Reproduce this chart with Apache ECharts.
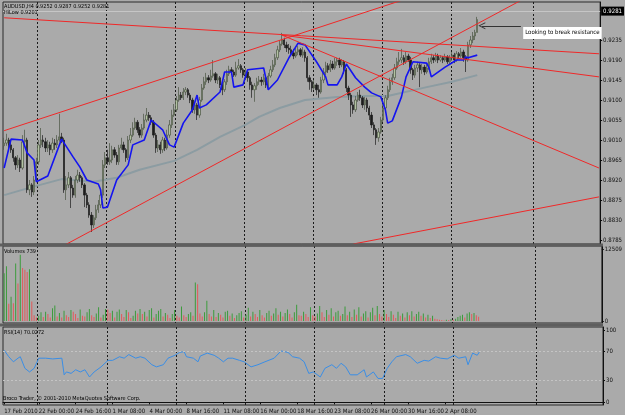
<!DOCTYPE html>
<html>
<head>
<meta charset="utf-8">
<script src="https://cdn.jsdelivr.net/npm/echarts@6/dist/echarts.min.js"></script>
<style>
html, body { margin: 0; padding: 0; background: #aaaaaa; }
#chart { width: 625px; height: 415px; }
</style>
</head>
<body>
<div id="chart"></div>
<script>
// AUDUSD H4, bars from 17 Feb 2010 12:00 to 6 Apr 2010
var symbolName = 'AUDUSD,H4';
var firstOpen = 0.8997;
var closes = [
  0.9003, 0.9010, 0.8999, 0.8988, 0.8970, 0.8954, 0.8965, 0.8947, 0.9006, 0.9010, 0.8898, 0.8909, 0.8893, 0.8920, 0.8961,
  0.8999, 0.9010, 0.9006, 0.8992, 0.8999, 0.8988, 0.9003, 0.8999, 0.9010, 0.9017, 0.9010, 0.8898, 0.8909, 0.8925, 0.8902,
  0.8886, 0.8920, 0.8931, 0.8925, 0.8909, 0.8886, 0.8864, 0.8841, 0.8819, 0.8835, 0.8853, 0.8864, 0.8886, 0.8954, 0.8970,
  0.8961, 0.8965, 0.8988, 0.8976, 0.8961, 0.8992, 0.8999, 0.8988, 0.8970, 0.9010, 0.9021, 0.9037, 0.9050, 0.9033, 0.9021,
  0.9037, 0.9055, 0.9066, 0.9060, 0.9050, 0.9021, 0.8992, 0.8999, 0.8988, 0.9010, 0.8992, 0.9021, 0.9044, 0.9066, 0.9078,
  0.9100, 0.9111, 0.9105, 0.9118, 0.9123, 0.9111, 0.9100, 0.9078, 0.9089, 0.9066, 0.9100, 0.9127, 0.9141, 0.9150, 0.9145,
  0.9154, 0.9159, 0.9145, 0.9150, 0.9134, 0.9123, 0.9141, 0.9159, 0.9168, 0.9163, 0.9156, 0.9172, 0.9177, 0.9168, 0.9156,
  0.9163, 0.9150, 0.9134, 0.9123, 0.9132, 0.9141, 0.9145, 0.9141, 0.9150, 0.9134, 0.9154, 0.9168, 0.9179, 0.9195, 0.9213,
  0.9226, 0.9235, 0.9224, 0.9217, 0.9213, 0.9206, 0.9199, 0.9208, 0.9213, 0.9201, 0.9208, 0.9195, 0.9150, 0.9141, 0.9127,
  0.9134, 0.9123, 0.9118, 0.9145, 0.9163, 0.9177, 0.9168, 0.9181, 0.9172, 0.9186, 0.9190, 0.9179, 0.9186, 0.9168, 0.9127,
  0.9111, 0.9089, 0.9078, 0.9100, 0.9111, 0.9105, 0.9089, 0.9100, 0.9082, 0.9066, 0.9044, 0.9033, 0.9015, 0.9028, 0.9055,
  0.9082, 0.9105, 0.9123, 0.9141, 0.9150, 0.9172, 0.9186, 0.9190, 0.9195, 0.9186, 0.9199, 0.9190, 0.9168, 0.9156, 0.9172,
  0.9179, 0.9168, 0.9174, 0.9163, 0.9172, 0.9186, 0.9195, 0.9190, 0.9199, 0.9190, 0.9195, 0.9190, 0.9197, 0.9186, 0.9195,
  0.9201, 0.9190, 0.9204, 0.9199, 0.9208, 0.9195, 0.9190, 0.9224, 0.9235, 0.9244, 0.9252, 0.9281
];
var highs = [
  0.9015, 0.9024, 0.9015, 0.9006, 0.8992, 0.8974, 0.8976, 0.8970, 0.9021, 0.9033, 0.9015, 0.8920, 0.8913, 0.8929, 0.8970,
  0.9010, 0.9037, 0.9021, 0.9015, 0.9010, 0.9006, 0.9015, 0.9012, 0.9021, 0.9069, 0.9026, 0.9015, 0.8929, 0.8938, 0.8929,
  0.8909, 0.8929, 0.8943, 0.8938, 0.8929, 0.8913, 0.8891, 0.8870, 0.8848, 0.8841, 0.8864, 0.8875, 0.8898, 0.8965, 0.8983,
  0.8988, 0.9003, 0.8997, 0.8994, 0.8983, 0.8999, 0.9015, 0.9006, 0.8992, 0.9019, 0.9037, 0.9050, 0.9060, 0.9055, 0.9039,
  0.9046, 0.9069, 0.9082, 0.9073, 0.9066, 0.9055, 0.9026, 0.9010, 0.9006, 0.9017, 0.9015, 0.9033, 0.9055, 0.9078, 0.9091,
  0.9109, 0.9129, 0.9118, 0.9127, 0.9129, 0.9127, 0.9116, 0.9105, 0.9096, 0.9093, 0.9107, 0.9136, 0.9152, 0.9161, 0.9156,
  0.9168, 0.9190, 0.9163, 0.9159, 0.9154, 0.9141, 0.9147, 0.9168, 0.9177, 0.9174, 0.9168, 0.9186, 0.9192, 0.9181, 0.9172,
  0.9172, 0.9168, 0.9154, 0.9141, 0.9138, 0.9150, 0.9154, 0.9152, 0.9159, 0.9154, 0.9161, 0.9177, 0.9190, 0.9204, 0.9222,
  0.9235, 0.9251, 0.9240, 0.9231, 0.9226, 0.9222, 0.9215, 0.9217, 0.9222, 0.9217, 0.9219, 0.9213, 0.9199, 0.9156, 0.9145,
  0.9145, 0.9138, 0.9134, 0.9152, 0.9172, 0.9186, 0.9183, 0.9190, 0.9188, 0.9195, 0.9195, 0.9195, 0.9192, 0.9190, 0.9172,
  0.9132, 0.9116, 0.9096, 0.9109, 0.9118, 0.9123, 0.9109, 0.9107, 0.9105, 0.9087, 0.9073, 0.9050, 0.9037, 0.9037, 0.9062,
  0.9091, 0.9111, 0.9132, 0.9150, 0.9159, 0.9181, 0.9195, 0.9208, 0.9215, 0.9201, 0.9208, 0.9204, 0.9197, 0.9172, 0.9179,
  0.9186, 0.9183, 0.9181, 0.9179, 0.9181, 0.9195, 0.9204, 0.9201, 0.9206, 0.9204, 0.9201, 0.9199, 0.9204, 0.9201, 0.9201,
  0.9208, 0.9206, 0.9210, 0.9208, 0.9217, 0.9213, 0.9201, 0.9231, 0.9244, 0.9253, 0.9258, 0.9287
];
var lows = [
  0.8988, 0.8997, 0.8992, 0.8981, 0.8961, 0.8943, 0.8947, 0.8938, 0.8943, 0.8997, 0.8891, 0.8886, 0.8882, 0.8886, 0.8916,
  0.8954, 0.8992, 0.8994, 0.8983, 0.8983, 0.8976, 0.8981, 0.8988, 0.8992, 0.9006, 0.9003, 0.8891, 0.8875, 0.8902, 0.8857,
  0.8880, 0.8880, 0.8913, 0.8916, 0.8902, 0.8859, 0.8857, 0.8835, 0.8803, 0.8812, 0.8830, 0.8846, 0.8857, 0.8880, 0.8947,
  0.8954, 0.8954, 0.8958, 0.8970, 0.8954, 0.8954, 0.8988, 0.8981, 0.8961, 0.8965, 0.9003, 0.9017, 0.9033, 0.9026, 0.9015,
  0.9015, 0.9033, 0.9050, 0.9053, 0.9044, 0.9015, 0.8981, 0.8983, 0.8979, 0.8981, 0.8985, 0.8988, 0.9015, 0.9037, 0.9062,
  0.9073, 0.9096, 0.9100, 0.9100, 0.9111, 0.9105, 0.9093, 0.9071, 0.9069, 0.9055, 0.9060, 0.9096, 0.9123, 0.9134, 0.9138,
  0.9141, 0.9150, 0.9138, 0.9136, 0.9127, 0.9111, 0.9118, 0.9134, 0.9154, 0.9156, 0.9152, 0.9152, 0.9168, 0.9161, 0.9150,
  0.9145, 0.9141, 0.9123, 0.9105, 0.9096, 0.9123, 0.9134, 0.9132, 0.9134, 0.9127, 0.9127, 0.9150, 0.9163, 0.9174, 0.9190,
  0.9208, 0.9222, 0.9217, 0.9208, 0.9204, 0.9199, 0.9192, 0.9195, 0.9201, 0.9197, 0.9195, 0.9186, 0.9141, 0.9123, 0.9118,
  0.9123, 0.9111, 0.9105, 0.9114, 0.9138, 0.9156, 0.9161, 0.9163, 0.9168, 0.9168, 0.9177, 0.9172, 0.9174, 0.9159, 0.9118,
  0.9100, 0.9062, 0.9069, 0.9073, 0.9096, 0.9098, 0.9082, 0.9078, 0.9073, 0.9055, 0.9037, 0.9021, 0.8999, 0.9006, 0.9024,
  0.9050, 0.9078, 0.9100, 0.9118, 0.9134, 0.9145, 0.9168, 0.9179, 0.9183, 0.9179, 0.9181, 0.9186, 0.9159, 0.9145, 0.9150,
  0.9163, 0.9129, 0.9159, 0.9156, 0.9159, 0.9168, 0.9181, 0.9183, 0.9186, 0.9183, 0.9186, 0.9183, 0.9186, 0.9181, 0.9179,
  0.9188, 0.9183, 0.9186, 0.9192, 0.9195, 0.9186, 0.9163, 0.9186, 0.9217, 0.9228, 0.9235, 0.9252
];
var volumes = [
  8300, 9500, 3000, 4200, 3100, 10000, 6500, 11500, 9200, 8900, 8500, 9000, 3400, 1000, 600,
  900, 1500, 700, 1600, 1200, 600, 2200, 2700, 800, 1400, 600, 1800, 1000, 700, 1900,
  1600, 1200, 500, 2000, 900, 800, 1500, 2100, 1000, 700, 1300, 2400, 600, 1100, 2100,
  2000, 1400, 1800, 600, 1600, 2000, 1200, 700, 1900, 1500, 500, 900, 1800, 1300, 2100,
  1200, 1600, 800, 1900, 2200, 600, 1200, 1800, 2100, 800, 1400, 1100, 500, 1200, 1900,
  900, 600, 2500, 1000, 700, 1200, 1500, 900, 6700, 6400, 1300, 800, 1500, 3500, 1200,
  800, 1900, 700, 1400, 1100, 600, 1600, 1800, 900, 1300, 500, 1000, 1400, 1700, 600,
  1100, 2300, 800, 1600, 1200, 700, 1900, 1000, 600, 1400, 1800, 900, 1300, 2200, 1100,
  1600, 800, 1400, 2000, 1200, 600, 1500, 2800, 1000, 900, 1600, 1200, 700, 2400, 1000,
  800, 1300, 2600, 1500, 700, 1900, 1100, 2200, 800, 1500, 1800, 900, 1200, 2500, 1000,
  1600, 700, 2000, 1100, 2400, 800, 1300, 1700, 600, 1500, 2300, 1000, 2600, 1200, 800,
  1900, 1200, 700, 1700, 1100, 500, 1600, 900, 1300, 600, 1500, 1000, 1700, 800, 1200,
  1600, 900, 1300, 600, 1100, 500, 900, 400, 300, 200, 150, 100, 200, 150, 300,
  200, 400, 700, 900, 1100, 600, 1300, 1500, 1200, 1400, 1000, 739
];
// [bar index, value]
var hiLow = [
  [0, 0.8947], [3, 0.9012], [8, 0.9010], [10, 0.8981], [13, 0.8965], [14, 0.8916], [19, 0.8929], [25, 0.9012],
  [30, 0.8972], [33, 0.8949], [36, 0.8920], [41, 0.8911], [42, 0.8898], [43, 0.8857], [45, 0.8859], [49, 0.8920],
  [54, 0.8954], [56, 0.8999], [61, 0.9010], [64, 0.9055], [69, 0.9033], [72, 0.8999], [74, 0.8994], [78, 0.9048],
  [82, 0.9078], [84, 0.9111], [85, 0.9082], [88, 0.9089], [94, 0.9118], [96, 0.9163], [99, 0.9163], [100, 0.9129],
  [104, 0.9134], [106, 0.9168], [113, 0.9172], [115, 0.9123], [119, 0.9145], [124, 0.9195], [128, 0.9228], [131, 0.9224],
  [136, 0.9186], [140, 0.9152], [141, 0.9134], [145, 0.9134], [147, 0.9152], [149, 0.9181], [153, 0.9150], [157, 0.9129],
  [160, 0.9116], [164, 0.9107], [166, 0.9078], [167, 0.9048], [169, 0.9053], [173, 0.9107], [175, 0.9152], [178, 0.9186],
  [184, 0.9183], [185, 0.9172], [186, 0.9152], [192, 0.9174], [197, 0.9190], [200, 0.9190], [201, 0.9197], [202, 0.9195],
  [206, 0.9201]
];
var slowMa = [
  [0, 0.8886], [12, 0.8904], [25, 0.8922], [39, 0.8916], [49, 0.8925], [59, 0.8943], [74, 0.8963], [84, 0.8988],
  [94, 0.9017], [105, 0.9044], [111, 0.9062], [120, 0.9082], [131, 0.9100], [145, 0.9107], [156, 0.9109], [167, 0.9109],
  [184, 0.9129], [195, 0.9141], [206, 0.9156]
];
var rsi = [
  [0, 72], [2, 63], [4, 56], [6, 61], [7, 63], [9, 47], [11, 42], [13, 47], [15, 61], [18, 61], [21, 60], [25, 61],
  [26, 38], [27, 42], [29, 40], [31, 45], [33, 42], [35, 45], [37, 35], [39, 42], [42, 49], [45, 58], [47, 58], [50, 63],
  [52, 61], [54, 66], [57, 61], [59, 63], [61, 61], [64, 52], [66, 49], [69, 52], [71, 61], [74, 65], [76, 69], [78, 70],
  [79, 63], [82, 61], [84, 56], [85, 64], [88, 68], [91, 65], [93, 61], [95, 56], [97, 61], [99, 61], [102, 58], [104, 56],
  [107, 49], [110, 52], [113, 56], [117, 61], [120, 71], [123, 69], [125, 63], [128, 61], [130, 56], [132, 40], [134, 42],
  [137, 35], [139, 47], [142, 52], [144, 47], [146, 54], [148, 49], [150, 38], [153, 38], [156, 45], [157, 35], [160, 42],
  [162, 33], [164, 33], [166, 47], [168, 56], [170, 63], [174, 66], [176, 63], [179, 54], [182, 58], [184, 57], [187, 63],
  [189, 61], [192, 60], [195, 65], [197, 61], [200, 63], [201, 52], [203, 68], [205, 65], [206, 70.0272]
];
var trendLines = [
  [[0, 0.9031], [180, 0.9336]],
  [[24, 0.8767], [230, 0.9338]],
  [[0, 0.9285], [259, 0.9204]],
  [[121, 0.9246], [259, 0.8947]],
  [[121, 0.9246], [259, 0.9152]],
  [[152, 0.8776], [259, 0.8882]]
];
var noteText = 'Looking to break resistance';
var noteArrow = [[225, 0.9267], [208, 0.9267]];
var noteAt = [226, 0.9251];

var dateLabels = ['17 Feb 2010', '22 Feb 00:00', '24 Feb 16:00', '1 Mar 08:00', '4 Mar 00:00', '8 Mar 16:00',
  '11 Mar 08:00', '16 Mar 00:00', '18 Mar 16:00', '23 Mar 08:00', '26 Mar 00:00', '30 Mar 16:00', '2 Apr 08:00'];
var dateLabelIdx = [0, 15, 31, 47, 63, 79, 95, 111, 127, 143, 159, 175, 191];
var weekLines = [15, 45, 75, 105, 135, 165, 195, 231];
var priceTicks = [0.9235, 0.9190, 0.9145, 0.9100, 0.9055, 0.9010, 0.8965, 0.8920, 0.8875, 0.8830, 0.8785];
var volumeTicks = [0, 12509];
var rsiTicks = [0, 30, 70, 100];
var rsiLevels = [30, 70];
var totalSlots = 260;

var font = 'DejaVu Sans Condensed';
var ink = '#101010';

var slots = [];
for (var s = 0; s < totalSlots; s++) slots.push(String(s));

var candles = closes.map(function (c, i) {
  var o = i === 0 ? firstOpen : closes[i - 1];
  return [o, c, lows[i], highs[i]];
});
var volData = volumes.map(function (v, i) {
  var up = i === 0 || v > volumes[i - 1];
  return { value: v, itemStyle: { color: up ? '#3c9c3c' : '#e25a5a' } };
});

var last = candles[candles.length - 1];
var headText = symbolName + ' ' + [last[0], last[3], last[2], last[1]].map(function (v) { return v.toFixed(4); }).join(' ');
var hiLowText = 'HiLow ' + hiLow[hiLow.length - 1][1].toFixed(4);
var volText = 'Volumes ' + volumes[volumes.length - 1];
var rsiText = 'RSI(14) ' + rsi[rsi.length - 1][1].toFixed(4);
var bid = closes[closes.length - 1];

function isWeek(idx) { return weekLines.indexOf(idx) >= 0; }
function isLabel(idx) { return dateLabelIdx.indexOf(idx) >= 0; }

function makeX(gi, bottom) {
  return {
    type: 'category', gridIndex: gi, data: slots, boundaryGap: true,
    axisLine: { show: bottom, lineStyle: { color: ink } },
    axisTick: { show: bottom, interval: function (i) { return isLabel(i); }, alignWithLabel: true, length: 2, lineStyle: { color: ink } },
    axisLabel: {
      show: bottom, interval: function (i) { return isLabel(i); },
      showMinLabel: true, showMaxLabel: true, hideOverlap: false,
      formatter: function (v, i) { var k = dateLabelIdx.indexOf(i); return k >= 0 ? dateLabels[k] : ''; },
      fontSize: 6, fontFamily: font, color: ink, align: 'left', margin: 3
    },
    splitLine: { show: true, interval: function (i) { return isWeek(i); }, lineStyle: { color: '#1a1a1a', width: 1, type: [2, 2] } }
  };
}
function makeY(gi, min, max, ticks, fmt) {
  return {
    type: 'value', gridIndex: gi, position: 'right', min: min, max: max,
    axisLine: { show: true, lineStyle: { color: ink } },
    axisTick: { show: true, length: 2, customValues: ticks, lineStyle: { color: ink } },
    axisLabel: { customValues: ticks, formatter: fmt, fontSize: 6, fontFamily: font, color: ink, margin: 3, showMinLabel: true, showMaxLabel: true },
    splitLine: { show: false }
  };
}

var series = [
  {
    type: 'line', xAxisIndex: 0, yAxisIndex: 0, data: slowMa, symbol: 'none', z: 3,
    lineStyle: { color: '#8c9ca2', width: 2 }
  },
  {
    type: 'candlestick', xAxisIndex: 0, yAxisIndex: 0, data: candles, barWidth: 1.8, z: 4,
    itemStyle: { color: '#b2c2a2', color0: '#1c1c1c', borderColor: '#4a5444', borderColor0: '#1c1c1c', borderWidth: 0.7 },
    markLine: {
      silent: true, symbol: ['none', 'none'], animation: false,
      data: [
        {
          yAxis: bid, lineStyle: { color: '#c6c6c6', type: 'solid', width: 1 },
          label: { show: true, position: 'end', distance: 1, formatter: bid.toFixed(4), backgroundColor: '#000', color: '#fff', fontSize: 6, fontFamily: font, padding: [2, 2, 1, 2] }
        },
        [
          { coord: noteArrow[0], symbol: 'none', lineStyle: { color: '#333', width: 1, type: 'solid' }, label: { show: false } },
          { coord: noteArrow[1], symbol: 'path://M0,10 L5,0 L10,10 L8.6,10 L5,2.6 L1.4,10 Z', symbolSize: [7, 7] }
        ]
      ]
    },
    markPoint: {
      silent: true, animation: false,
      data: [{
        coord: noteAt, symbol: 'rect', symbolSize: 0,
        label: { show: true, position: 'right', distance: 0, formatter: noteText, backgroundColor: '#fff', color: '#000', fontSize: 6, fontFamily: font, padding: [3, 2, 3, 2] }
      }]
    }
  },
  {
    type: 'line', xAxisIndex: 0, yAxisIndex: 0, data: hiLow, symbol: 'none', z: 5,
    lineStyle: { color: '#1414f0', width: 1.6 }
  }
];
trendLines.forEach(function (seg) {
  series.push({
    type: 'line', xAxisIndex: 0, yAxisIndex: 0, data: seg, symbol: 'none', clip: true, z: 6,
    lineStyle: { color: '#f02828', width: 1 }
  });
});
series.push({
  type: 'bar', xAxisIndex: 1, yAxisIndex: 1, data: volData, barWidth: 1
});
series.push({
  type: 'line', xAxisIndex: 2, yAxisIndex: 2, data: rsi, symbol: 'none',
  lineStyle: { color: '#3a8ee6', width: 1 },
  markLine: {
    silent: true, symbol: ['none', 'none'], animation: false, label: { show: false },
    lineStyle: { color: '#c4c4c4', type: [2, 2], width: 1 },
    data: rsiLevels.map(function (v) { return { yAxis: v }; })
  }
});

var chart = echarts.init(document.getElementById('chart'));
chart.setOption({
  animation: false,
  backgroundColor: '#aaaaaa',
  grid: [
    { left: 3, top: 2, width: 600, height: 242, show: true, borderColor: '#2a2a2a', borderWidth: 1 },
    { left: 3, top: 246, width: 600, height: 77, show: true, borderColor: '#2a2a2a', borderWidth: 1 },
    { left: 3, top: 327, width: 600, height: 78, show: true, borderColor: '#2a2a2a', borderWidth: 1 }
  ],
  xAxis: [makeX(0, false), makeX(1, false), makeX(2, true)],
  yAxis: [
    makeY(0, 0.8776, 0.93205, priceTicks, function (v) { return v.toFixed(4); }),
    makeY(1, -350, 13030, volumeTicks, function (v) { return String(v); }),
    makeY(2, -3.7, 104.1, rsiTicks, function (v) { return String(v); })
  ],
  series: series,
  graphic: [
    { type: 'rect', shape: { x: 0, y: 243.5, width: 603, height: 3 }, style: { fill: '#5e5e5e' }, z: 100 },
    { type: 'rect', shape: { x: 0, y: 323.5, width: 603, height: 3 }, style: { fill: '#5e5e5e' }, z: 100 },
    { type: 'text', left: 4, top: 4, z: 100, style: { text: headText, fontSize: 5.5, fontFamily: font, fill: '#000' } },
    { type: 'text', left: 4, top: 10, z: 100, style: { text: hiLowText, fontSize: 5.5, fontFamily: font, fill: '#000' } },
    { type: 'text', left: 4, top: 249, z: 100, style: { text: volText, fontSize: 5.5, fontFamily: font, fill: '#000' } },
    { type: 'text', left: 4, top: 330, z: 100, style: { text: rsiText, fontSize: 5.5, fontFamily: font, fill: '#000' } },
    { type: 'text', left: 3, top: 396, z: 100, style: { text: 'Broco Trader, \u00a9 2001-2010 MetaQuotes Software Corp.', fontSize: 5.5, fontFamily: font, fill: '#000' } }
  ]
});
</script>
</body>
</html>
